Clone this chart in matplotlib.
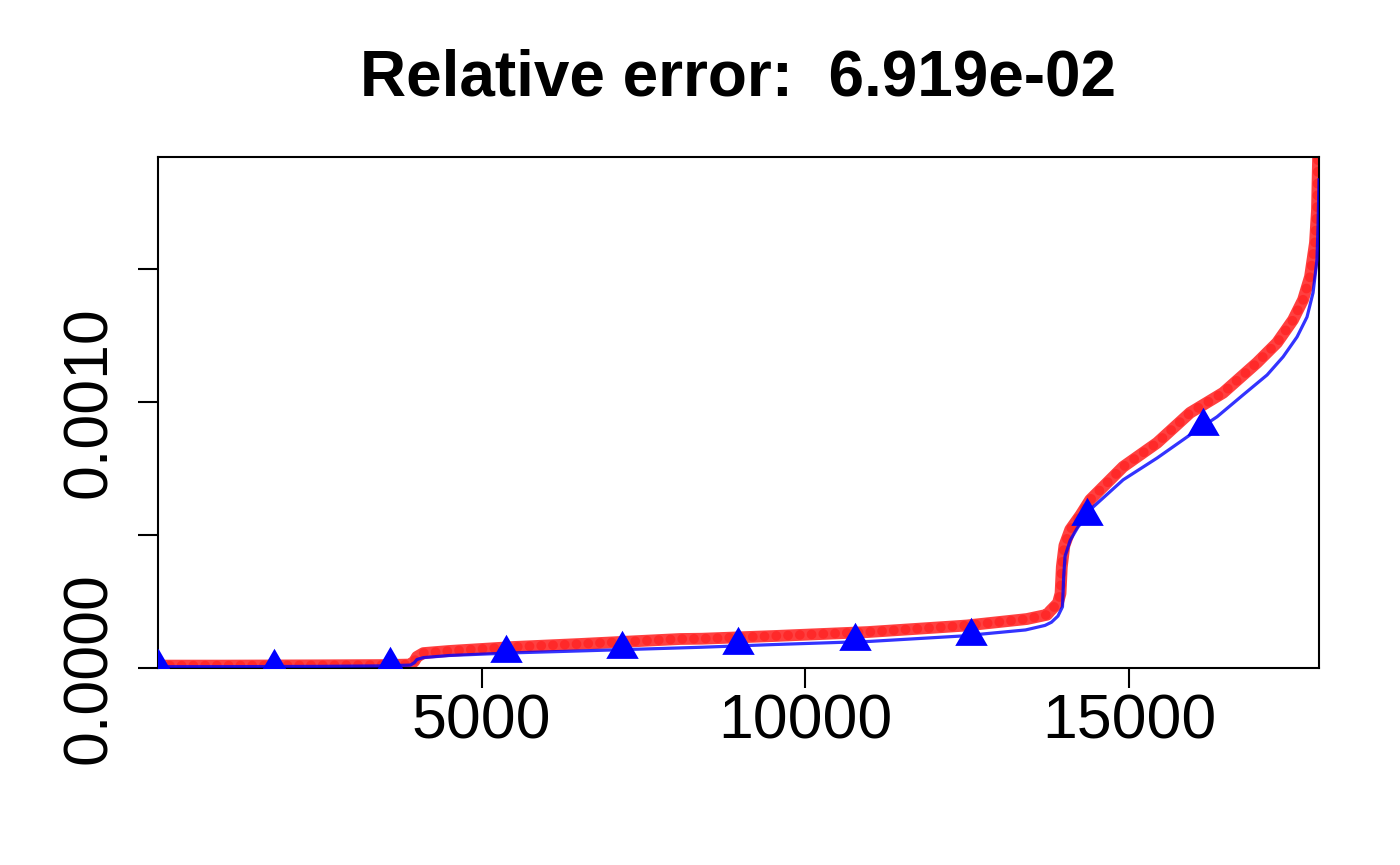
import matplotlib
matplotlib.use("Agg")
import matplotlib.pyplot as plt
from matplotlib.path import Path

plt.rcParams['font.family'] = ['Liberation Sans', 'DejaVu Sans']

# ---- data ----
n_points = 17932

red_x = [1, 1000, 2500, 3500, 3900, 3960, 4000, 4100, 4500, 5500, 6500, 8070, 8400,
         9500, 10960, 12390, 12500, 13420, 13730, 13780, 13900, 13940, 13960, 14000,
         14090, 14250, 14398, 14907, 15432, 15941, 16451, 16975, 17284, 17531, 17685,
         17793, 17870, 17901, 17917, 17932]
red_y = [9e-6, 9e-6, 1.0e-5, 1.1e-5, 1.3e-5, 2.5e-5, 4.2e-5, 5.6e-5, 6.4e-5, 7.9e-5,
         9.0e-5, 1.09e-4, 1.1e-4, 1.2e-4, 1.35e-4, 1.58e-4, 1.6e-4, 1.84e-4, 2.0e-4,
         2.14e-4, 2.44e-4, 2.8e-4, 3.8e-4, 4.6e-4, 5.2e-4, 5.75e-4, 6.32e-4, 7.56e-4,
         8.46e-4, 9.59e-4, 1.034e-3, 1.147e-3, 1.222e-3, 1.308e-3, 1.383e-3, 1.470e-3,
         1.598e-3, 1.722e-3, 1.910e-3, 2.05e-3]

blue_x = [1, 1000, 2500, 3500, 3900, 3960, 4000, 4100, 4500, 5500, 6500, 8000, 8400,
          9500, 11000, 12400, 13400, 13700, 13800, 13900, 13970, 13990, 14010, 14090,
          14210, 14350, 14444, 14907, 15432, 15941, 16358, 16759, 17130, 17377, 17593,
          17747, 17840, 17901, 17917, 17932]
blue_y = [5e-6, 5e-6, 6e-6, 8e-6, 1.1e-5, 2.0e-5, 3.2e-5, 3.9e-5, 4.7e-5, 5.7e-5,
          6.4e-5, 7.5e-5, 7.8e-5, 8.8e-5, 1.0e-4, 1.2e-4, 1.43e-4, 1.6e-4, 1.72e-4,
          1.95e-4, 2.3e-4, 3.5e-4, 4.2e-4, 4.8e-4, 5.3e-4, 5.7e-4, 6.05e-4, 7.07e-4,
          7.89e-4, 8.76e-4, 9.44e-4, 1.026e-3, 1.101e-3, 1.169e-3, 1.244e-3, 1.319e-3,
          1.410e-3, 1.534e-3, 1.658e-3, 1.834e-3]

marker_x = [1, 1794, 3587, 5380, 7173, 8966, 10759, 12552, 14345, 16138]
marker_y = [4e-6, 4e-6, 1.2e-5, 5.6e-5, 7.0e-5, 8.5e-5, 1.01e-4, 1.2e-4, 5.7e-4, 9.1e-4]

x_ticks = [5000, 10000, 15000]
x_tick_labels = ['5000', '10000', '15000']
y_ticks = [0.0, 0.0005, 0.0010, 0.0015]
y_tick_labels = ['0.0000', '', '0.0010', '']
title_text = 'Relative error:  6.919e-02'

# ---- figure ----
fig = plt.figure(figsize=(14, 8.65), dpi=100)
ax = fig.add_axes([158/1400, 1 - 668/865, (1319-158)/1400, (668-157)/865])

ax.plot(red_x, red_y, color='#FF0000', lw=8.5, alpha=0.75, solid_capstyle='round',
        solid_joinstyle='round', zorder=2)
ax.plot(red_x, red_y, color='#FF0000', lw=7, alpha=0.35, linestyle=(0, (0.01, 1.2)),
        dash_capstyle='round', zorder=2.1)
ax.plot(blue_x, blue_y, color='#0000FF', lw=2.3, alpha=0.8, zorder=3,
        solid_joinstyle='round')

tri = Path([(0, 1), (-0.866, -0.5), (0.866, -0.5), (0, 1)],
           [Path.MOVETO, Path.LINETO, Path.LINETO, Path.CLOSEPOLY])
ax.plot(marker_x, marker_y, linestyle='none', marker=tri, markersize=27,
        color='#0000FF', markeredgewidth=0, zorder=4)

ax.set_xlim(1, n_points)
ax.set_ylim(0, 0.00192)

ax.set_xticks(x_ticks)
ax.set_xticklabels(x_tick_labels)
ax.set_yticks(y_ticks)
ax.set_yticklabels(y_tick_labels)

for s in ax.spines.values():
    s.set_linewidth(1.5)
ax.tick_params(axis='both', direction='out', length=14.4, width=1.5, labelsize=45)
ax.tick_params(axis='x', pad=3)
ax.tick_params(axis='y', pad=14, labelrotation=90)
for lab in ax.get_yticklabels():
    lab.set_va('center')
    lab.set_ha('right')

fig.text((158 + 1319) / 2 / 1400, 1 - 79/865, title_text, ha='center', va='center',
         fontsize=46, fontweight='bold')

fig.savefig('out.png', dpi=100)
